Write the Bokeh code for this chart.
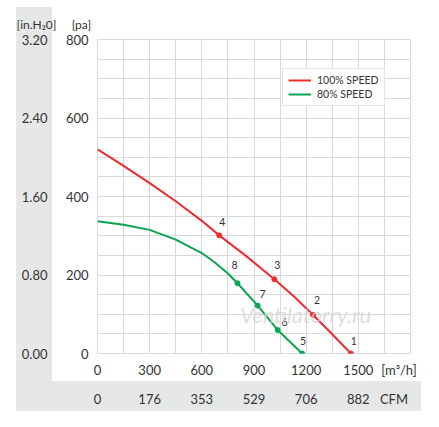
from bokeh.plotting import figure
from bokeh.models import (Range1d, LinearAxis, FixedTicker, Label, Title,
                          Legend, LegendItem, ColumnDataSource, NumeralTickFormatter)
from bokeh.core.properties import value
from bokeh.embed import file_html
from bokeh.resources import INLINE

# ---------------- data ----------------
flow_ticks = [0, 300, 600, 900, 1200, 1500]            # m3/h
flow_labels = ["0", "300", "600", "900", "1200", "1500"]
cfm_labels = ["0", "176", "353", "529", "706", "882"]  # CFM equivalents
pa_ticks = [0, 200, 400, 600, 800]
inh2o_ticks = [0.0, 0.8, 1.6, 2.4, 3.2]

# 100% speed curve
red_x = [0, 150, 300, 450, 600, 700, 850, 1017, 1130, 1240, 1350, 1457]
red_y = [520, 478, 434, 388, 338, 301, 250, 189, 145, 98, 49, 0]
# 80% speed curve
green_x = [0, 150, 300, 450, 600, 675, 750, 805, 921, 1036, 1177]
green_y = [337, 328, 315, 290, 256, 232, 204, 179, 122, 60, 0]

# operating points
pt_labels = ["1", "2", "3", "4", "5", "6", "7", "8"]
pt_x = [1457, 1240, 1017, 700, 1177, 1036, 921, 805]
pt_y = [0, 98, 189, 301, 0, 60, 122, 179]
pt_speed = ["100", "100", "100", "100", "80", "80", "80", "80"]

# ---------------- style ----------------
FONT = "Lato"
TXT = "#333333"
RED = "#ee2b2f"
GREEN = "#0aa550"
GRID = "#d9d9d9"
BAND = "#e6e7e7"
label_dx = [3, 4, 3, 3, 1, 7, 5, -3]
label_dy = [-13, -15, -14, -13, -13, -8, -12, -18]
UNIT_FLOW_POS = 1734   # where the "[m³/h]" / "CFM" captions sit on the flow scale
UNIT_CFM_POS = 1705
NB = "\u00a0"

p = figure(width=423, height=411, x_range=Range1d(0, 1800), y_range=Range1d(0, 800),
           output_backend="svg", toolbar_location=None,
           min_border_left=97, min_border_right=13, min_border_top=39, min_border_bottom=58)
p.outline_line_color = GRID
p.background_fill_color = "white"
p.border_fill_color = None
# grey bands behind the secondary scales (page background of the plot element)
p.styles = {
    "background": (f"linear-gradient({BAND},{BAND}) 16px 7px / 36px 404px no-repeat, "
                   f"linear-gradient({BAND},{BAND}) 16px 381px / 405px 30px no-repeat, #ffffff")
}

# scale captions above the value columns
p.add_layout(Title(text="[in.H\u20820]" + NB * 5 + "[pa]", align="left", offset=-81, standoff=14,
                   vertical_align="middle", text_font=FONT, text_font_size="12px",
                   text_font_style="normal", text_color=TXT), "above")

# grid
p.xgrid.ticker = FixedTicker(ticks=list(range(0, 1801, 150)))
p.ygrid.ticker = FixedTicker(ticks=list(range(0, 801, 50)))
p.xgrid.grid_line_color = GRID
p.ygrid.grid_line_color = GRID


def style_axis(ax, standoff):
    ax.axis_line_color = None
    ax.major_tick_line_color = None
    ax.minor_tick_line_color = None
    ax.major_tick_out = 0
    ax.major_tick_in = 0
    ax.major_label_standoff = standoff
    ax.major_label_text_font = FONT
    ax.major_label_text_font_size = "13px"
    ax.major_label_text_color = TXT


# primary flow axis (with unit caption as an extra label)
p.xaxis.ticker = FixedTicker(ticks=flow_ticks + [UNIT_FLOW_POS])
p.xaxis.major_label_overrides = dict(zip(flow_ticks + [UNIT_FLOW_POS], flow_labels + ["[m\u00b3/h]"]))
style_axis(p.xaxis[0], 8)
p.yaxis.ticker = FixedTicker(ticks=pa_ticks)
style_axis(p.yaxis[0], 9)

# in.H2O axis
p.extra_y_ranges = {"inh2o": Range1d(0, 3.2)}
ax_in = LinearAxis(y_range_name="inh2o", ticker=FixedTicker(ticks=inh2o_ticks),
                   formatter=NumeralTickFormatter(format="0.00"))
style_axis(ax_in, 15)
p.add_layout(ax_in, "left")

# CFM axis
ax_cfm = LinearAxis(ticker=FixedTicker(ticks=flow_ticks + [UNIT_CFM_POS]),
                    major_label_overrides=dict(zip(flow_ticks + [UNIT_CFM_POS], cfm_labels + ["CFM"])))
style_axis(ax_cfm, 10)
p.add_layout(ax_cfm, "below")

# curves
r_red = p.line(red_x, red_y, line_color=RED, line_width=2)
r_green = p.line(green_x, green_y, line_color=GREEN, line_width=2)

src = ColumnDataSource(dict(x=pt_x, y=pt_y, t=pt_labels, s=pt_speed, dx=label_dx, dy=label_dy,
                            c=[RED if s == "100" else GREEN for s in pt_speed]))
p.scatter("x", "y", source=src, size=5, fill_color="c", line_color="c")
p.text("x", "y", text="t", source=src, x_offset="dx", y_offset="dy",
       text_font=value(FONT), text_font_size="10.5px", text_color=TXT,
       text_align="center", text_baseline="middle")

# watermark
p.add_layout(Label(x=208, y=39, x_units="screen", y_units="screen", text="Ventilatorry.ru",
                   text_font=FONT, text_font_style="italic", text_font_size="22px",
                   text_color="#d4d4d4", text_alpha=0.75, text_align="center",
                   text_baseline="middle"))

legend = Legend(items=[LegendItem(label="100% SPEED", renderers=[r_red]),
                       LegendItem(label="80% SPEED", renderers=[r_green])],
                location=(185, 247), padding=5, spacing=2, margin=0,
                label_height=12, glyph_height=12, glyph_width=23, label_standoff=6,
                label_text_font=FONT, label_text_font_size="10.5px", label_text_color=TXT,
                border_line_color="#cccccc", border_line_width=1.5,
                background_fill_color="white", background_fill_alpha=1)
p.add_layout(legend)

open("out.html", "w").write(file_html(p, INLINE))
